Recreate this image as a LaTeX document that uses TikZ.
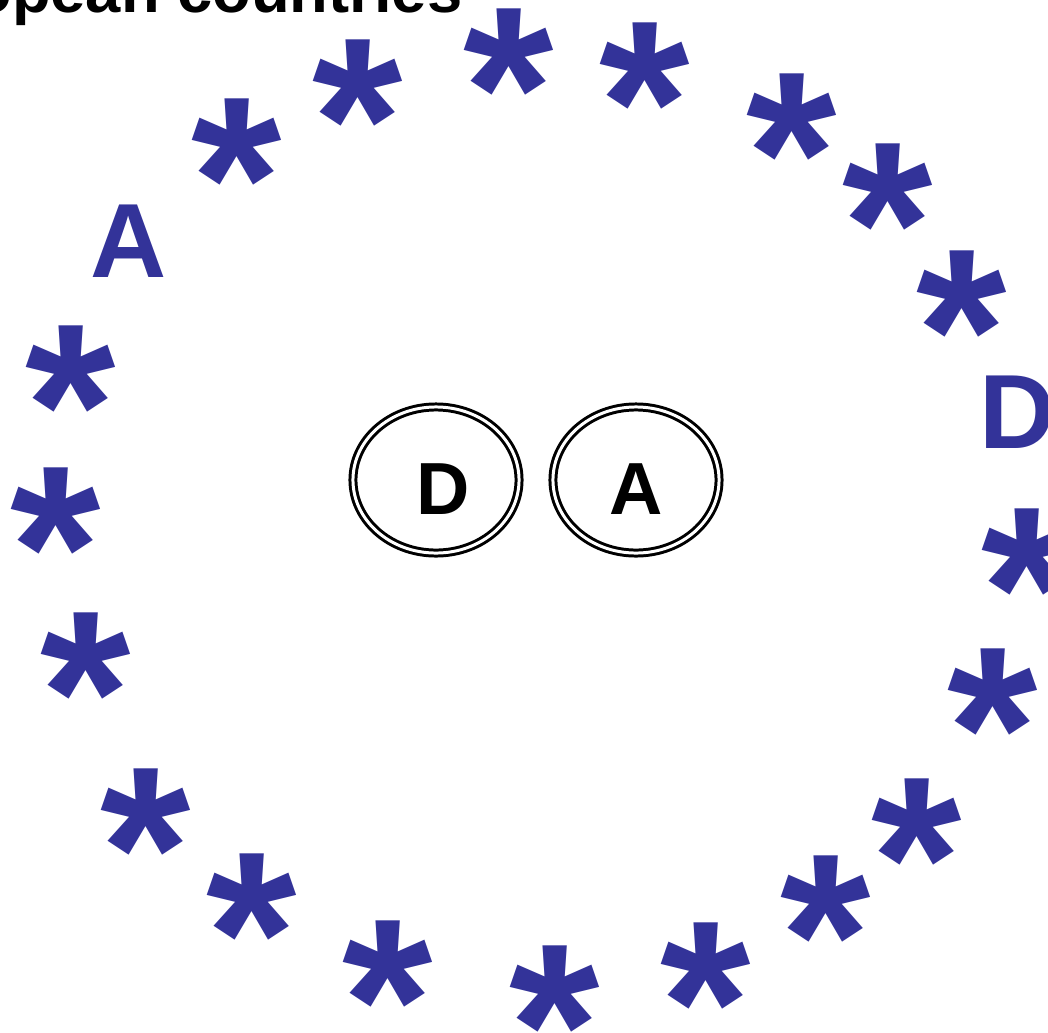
\documentclass[tikz,border=0pt]{standalone}
\usepackage{fontspec}
\setmainfont{Liberation Sans}
\usepackage{tikz}
\usetikzlibrary{shapes.geometric}
\definecolor{flagblue}{RGB}{51,51,153}

\begin{document}
\begin{tikzpicture}[x=0.01cm,y=-0.01cm,line cap=round,line join=round]
  \tikzset{flagstar/.style={text=flagblue,inner sep=0pt,anchor=north,font=\fontsize{66}{66}\selectfont\bfseries},
    ringletter/.style={text=flagblue,inner sep=0pt,anchor=base,font=\fontsize{30}{30}\selectfont\bfseries},
    plate/.style={ellipse,draw=black,line width=0.85pt,double=white,double distance=0.85pt,
      minimum width=1.66cm,minimum height=1.46cm,inner sep=0pt,text height=19.35pt,text depth=0pt,
      font=\fontsize{21}{21}\selectfont\bfseries}}

  \useasboundingbox (0,0) rectangle (1048,1033);

  \node[anchor=base east,inner sep=0pt,font=\fontsize{18}{18}\selectfont\bfseries] (title) at (463,12.5) {European countries};

  % ring of stars, tops of the glyphs
  \foreach \x/\y [count=\i] in {237/98,358/39,509/8,645/22,792/73,888/143,962/250,1027/508,993/648,917/778,
    826/855,706/922,555/945,388/920,252/853,146/768,86/612,56/467,71/325} {
    \node[flagstar] (s\i) at (\x,\y) {*};
  }
  \node[ringletter] (ringA) at (129,277) {A};
  \node[ringletter,anchor=base west] (ringD) at (979,448) {D};

  \node[plate] (plateD) at (436,480) {\hspace{4pt}D};
  \node[plate] (plateA) at (636,480) {A};
\end{tikzpicture}
\end{document}
